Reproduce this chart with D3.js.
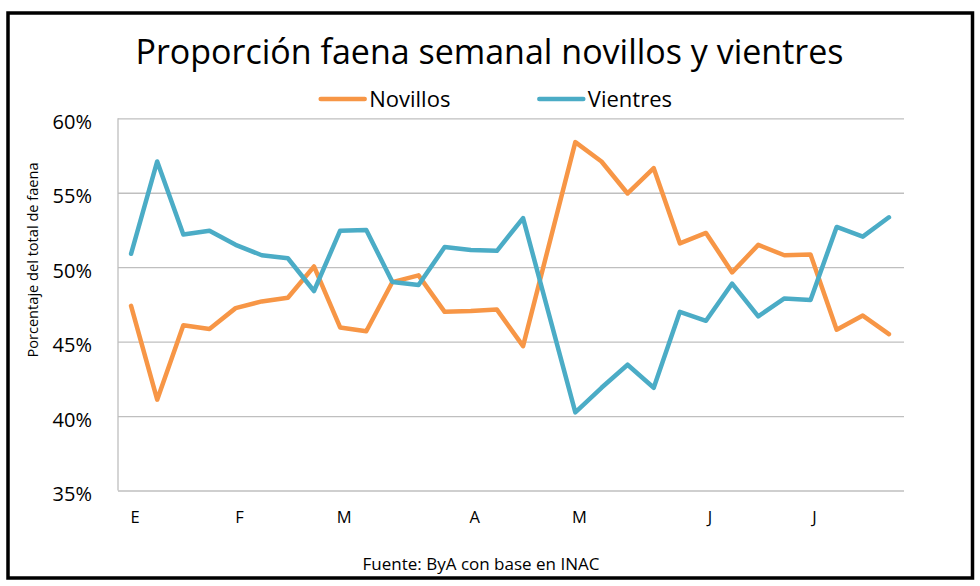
<!DOCTYPE html>
<html>
<head>
<meta charset="utf-8">
<script src="https://cdn.jsdelivr.net/npm/d3@7"></script>
<style>
  body { margin: 0; background: #fff; }
  svg { display: block; font-family: "Open Sans", sans-serif; }
  .tick line { stroke: #bfbfbf; stroke-width: 1.3; }
  .tick text { fill: #000; }
</style>
</head>
<body>
<div class="vis1"></div>
<script>
// frame size and plot area
const FRAME_WIDTH = 980;
const FRAME_HEIGHT = 586;
const PLOT = {left: 118, right: 904, top: 118.3, bottom: 490.5};

// weekly share of slaughter, % (week 16 missing in source)
const NOVILLOS = [47.4, 41.1, 46.1, 45.85, 47.25, 47.7, 47.95, 50.05, 45.95, 45.7,
                  49.0, 49.45, 47.0, 47.05, 47.15, 44.7, null, 58.4, 57.1, 54.95,
                  56.65, 51.6, 52.3, 49.65, 51.5, 50.8, 50.85, 45.8, 46.75, 45.5];
const VIENTRES = [50.9, 57.1, 52.2, 52.45, 51.5, 50.8, 50.6, 48.4, 52.45, 52.5,
                  49.0, 48.8, 51.35, 51.15, 51.1, 53.3, null, 40.25, 41.9, 43.45,
                  41.9, 47.0, 46.4, 48.9, 46.7, 47.9, 47.8, 52.7, 52.05, 53.35];

const SERIES_NAMES = ["Novillos", "Vientres"];
const SERIES_COLORS = ["#f79646", "#4bacc6"];

// month labels and the week where each one sits
const MONTH_LABELS = ["E", "F", "M", "A", "M", "J", "J"];
const MONTH_WEEKS = [0, 4, 8, 13, 17, 22, 26];

const Y_TICKS = [35, 40, 45, 50, 55, 60];

const FRAME1 = d3.select('.vis1')
  .append('svg')
    .attr('width', FRAME_WIDTH)
    .attr('height', FRAME_HEIGHT);

// outer border
FRAME1.append('rect')
  .attr('x', 8).attr('y', 13)
  .attr('width', 964.5).attr('height', 565)
  .attr('fill', 'none')
  .attr('stroke', '#000')
  .attr('stroke-width', 3.5);

// scales
const xscale = d3.scaleBand()
  .domain(d3.range(NOVILLOS.length))
  .range([PLOT.left, 902]);

const yscale = d3.scaleLinear()
  .domain([35, 60])
  .range([PLOT.bottom, PLOT.top]);

// y axis with gridlines
const yAxis = FRAME1.append('g')
  .attr('transform', 'translate(' + PLOT.left + ',0)')
  .call(d3.axisLeft(yscale)
    .tickValues(Y_TICKS)
    .tickSize(-(PLOT.right - PLOT.left))
    .tickPadding(26)
    .tickFormat((d) => d + '%'))
  .attr('font-family', null)
  .attr('font-size', '20px');
yAxis.select('.domain').remove();
yAxis.selectAll('text')
  .attr('dy', '0.5em');

// left axis line
FRAME1.append('line')
  .attr('x1', PLOT.left).attr('x2', PLOT.left)
  .attr('y1', PLOT.top).attr('y2', PLOT.bottom)
  .attr('stroke', '#bfbfbf')
  .attr('stroke-width', 1.3);

// x axis month labels
const xAxis = FRAME1.append('g')
  .attr('transform', 'translate(0,' + PLOT.bottom + ')')
  .call(d3.axisBottom(xscale)
    .tickValues(MONTH_WEEKS)
    .tickSize(0)
    .tickPadding(21)
    .tickFormat((d, i) => MONTH_LABELS[i]))
  .attr('font-family', null)
  .attr('font-size', '16.5px');
xAxis.select('.domain').remove();
xAxis.selectAll('text')
  .attr('dx', 4);

// lines (missing week is bridged, like the original)
const line = d3.line()
  .x((d) => xscale(d.week) + xscale.bandwidth() / 2)
  .y((d) => yscale(d.value));

[NOVILLOS, VIENTRES].forEach((values, i) => {
  const pts = values
    .map((v, w) => ({week: w, value: v}))
    .filter((d) => d.value !== null);
  FRAME1.append('path')
    .datum(pts)
    .attr('d', line)
    .attr('fill', 'none')
    .attr('stroke', SERIES_COLORS[i])
    .attr('stroke-width', 4.5)
    .attr('stroke-linejoin', 'round')
    .attr('stroke-linecap', 'round');
});

// title
FRAME1.append('text')
  .attr('x', 489.5)
  .attr('y', 64)
  .attr('text-anchor', 'middle')
  .attr('font-size', '34px')
  .text('Proporción faena semanal novillos y vientres');

// legend
const LEGEND_X = [320.7, 539.3];
SERIES_NAMES.forEach((name, i) => {
  const g = FRAME1.append('g')
    .attr('transform', 'translate(' + LEGEND_X[i] + ',99)');
  g.append('line')
    .attr('x1', 0).attr('x2', 44)
    .attr('stroke', SERIES_COLORS[i])
    .attr('stroke-width', 4.5)
    .attr('stroke-linecap', 'round');
  g.append('text')
    .attr('x', 48.5)
    .attr('y', 7.7)
    .attr('font-size', '22px')
    .text(name);
});

// y axis title
FRAME1.append('text')
  .attr('transform', 'translate(38,260) rotate(-90)')
  .attr('text-anchor', 'middle')
  .attr('font-size', '14.6px')
  .text('Porcentaje del total de faena');

// source note
FRAME1.append('text')
  .attr('x', 481)
  .attr('y', 570)
  .attr('text-anchor', 'middle')
  .attr('font-size', '17px')
  .text('Fuente: ByA con base en INAC');
</script>
</body>
</html>
